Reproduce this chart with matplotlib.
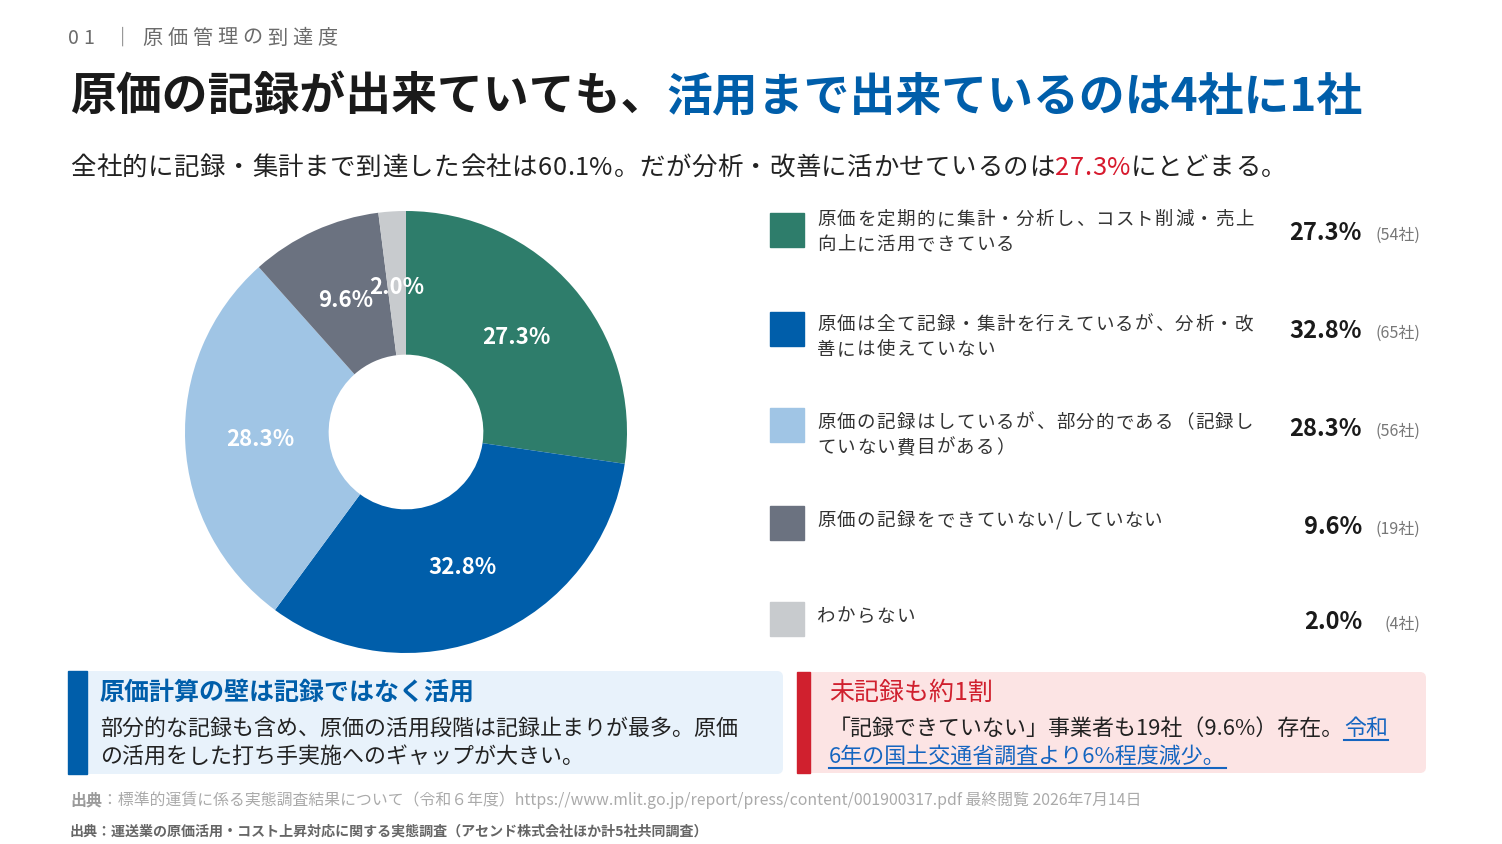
import matplotlib
matplotlib.use("Agg")
import matplotlib.pyplot as plt
from matplotlib.patches import Rectangle, FancyBboxPatch

plt.rcParams['font.family'] = ['Noto Sans CJK JP', 'DejaVu Sans']

# データ
labels = [
    "原価を定期的に集計・分析し、コスト削減・売上\n向上に活用できている",
    "原価は全て記録・集計を行えているが、分析・改\n善には使えていない",
    "原価の記録はしているが、部分的である（記録し\nていない費目がある）",
    "原価の記録をできていない/していない",
    "わからない",
]
shares = [27.3, 32.8, 28.3, 9.6, 2.0]
companies = [54, 65, 56, 19, 4]
colors = ["#2E7D6B", "#005EAA", "#A0C5E5", "#6B7280", "#C8CBCE"]

W, H = 1502, 845
fig = plt.figure(figsize=(W / 100, H / 100), dpi=100)
bg = fig.add_axes([0, 0, 1, 1])
bg.set_xlim(0, W)
bg.set_ylim(H, 0)
bg.axis("off")
renderer = fig.canvas.get_renderer()


def put(x, y, s, size, color="#222222", weight="normal", spacing=0, va="center", ha="left"):
    # テキストを置いて右端のx座標を返す
    if spacing == 0:
        t = bg.text(x, y, s, fontsize=size, color=color, fontweight=weight, va=va, ha=ha)
        return x + t.get_window_extent(renderer).width
    for ch in s:
        t = bg.text(x, y, ch, fontsize=size, color=color, fontweight=weight, va=va, ha=ha)
        x += t.get_window_extent(renderer).width + spacing
    return x - spacing


# ヘッダー
put(68, 38, "01", 14, "#6b6b6b", spacing=4)
put(113, 38, "｜", 14, "#6b6b6b")
put(142, 38, "原価管理の到達度", 14.5, "#6b6b6b", spacing=5)

# タイトル
x = put(70, 97, "原価の記録が出来ていても、", 33, "#1a1a1a", "bold")
put(x, 97, "活用まで出来ているのは4社に1社", 33, "#005EAA", "bold")

# サブタイトル
x = put(70, 168, "全社的に記録・集計まで到達した会社は60.1%。だが分析・改善に活かせているのは", 18.3, "#222222", spacing=0.6)
x = put(x + 0.6, 168, "27.3%", 18.3, "#d7192d", spacing=0.6)
put(x + 0.6, 168, "にとどまる。", 18.3, "#222222", spacing=0.6)

# ドーナツ
cx, cy, r = 406, 433, 221
pie_ax = fig.add_axes([(cx - r) / W, 1 - (cy + r) / H, 2 * r / W, 2 * r / H])
pie_ax.pie(shares, colors=colors, startangle=90, counterclock=False,
           wedgeprops=dict(width=0.65, edgecolor="none"),
           autopct="%.1f%%", pctdistance=0.66,
           textprops=dict(color="white", fontsize=16, fontweight="bold"))
pie_ax.set_xlim(-1, 1)
pie_ax.set_ylim(-1, 1)
pie_ax.set_aspect("equal")

# 凡例
sq_tops = [214, 313, 409, 507, 603]
txt_y = [220, 325, 423, 521, 617]
pct_y = [233, 331, 429, 527, 622]
for i, lab in enumerate(labels):
    bg.add_patch(Rectangle((770, sq_tops[i]), 34, 34, color=colors[i]))
    for j, line in enumerate(lab.split("\n")):
        put(817, txt_y[i] + 25 * j, line, 13.3, "#333333", spacing=1.4)
    put(1362, pct_y[i], f"{shares[i]:.1f}%", 17, "#1a1a1a", "bold", ha="right")
    put(1420, pct_y[i] + 2, f"({companies[i]}社)", 11.5, "#777777", ha="right")

# 下のボックス（左）
bg.add_patch(FancyBboxPatch((68, 672), 715, 103, boxstyle="round,pad=0,rounding_size=6",
                            fc="#E8F2FB", ec="none"))
bg.add_patch(Rectangle((68, 672), 19, 103, color="#005EAA"))
put(100, 693, "原価計算の壁は記録ではなく活用", 18, "#005EAA", "bold")
put(100, 729, "部分的な記録も含め、原価の活用段階は記録止まりが最多。原価", 15.8, "#222222")
put(100, 757, "の活用をした打ち手実施へのギャップが大きい。", 15.8, "#222222")

# 下のボックス（右）
bg.add_patch(FancyBboxPatch((797, 673), 629, 101, boxstyle="round,pad=0,rounding_size=6",
                            fc="#FCE4E4", ec="none"))
bg.add_patch(Rectangle((797, 673), 13, 101, color="#D0202E"))
put(829, 693, "未記録も約1割", 18, "#D0202E")
x = put(829, 729, "「記録できていない」事業者も19社（9.6%）存在。", 15.8, "#222222")
x2 = put(x, 729, "令和", 15.8, "#1565C0")
bg.plot([x, x2], [741, 741], color="#1565C0", lw=1.5)
x3 = put(829, 757, "6年の国土交通省調査より6%程度減少。", 15.8, "#1565C0")
bg.plot([829, x3], [769, 769], color="#1565C0", lw=1.5)

# 出典
x = put(70, 800, "出典", 11.5, "#9a9a9a", "bold")
put(x, 800, "：標準的運賃に係る実態調査結果について（令和６年度）https://www.mlit.go.jp/report/press/content/001900317.pdf 最終閲覧 2026年7月14日",
    11.4, "#aaaaaa")
put(70, 832, "出典：運送業の原価活用・コスト上昇対応に関する実態調査（アセンド株式会社ほか計5社共同調査）",
    10.1, "#666666", "bold")

fig.savefig("out.png", dpi=100, facecolor="white")
